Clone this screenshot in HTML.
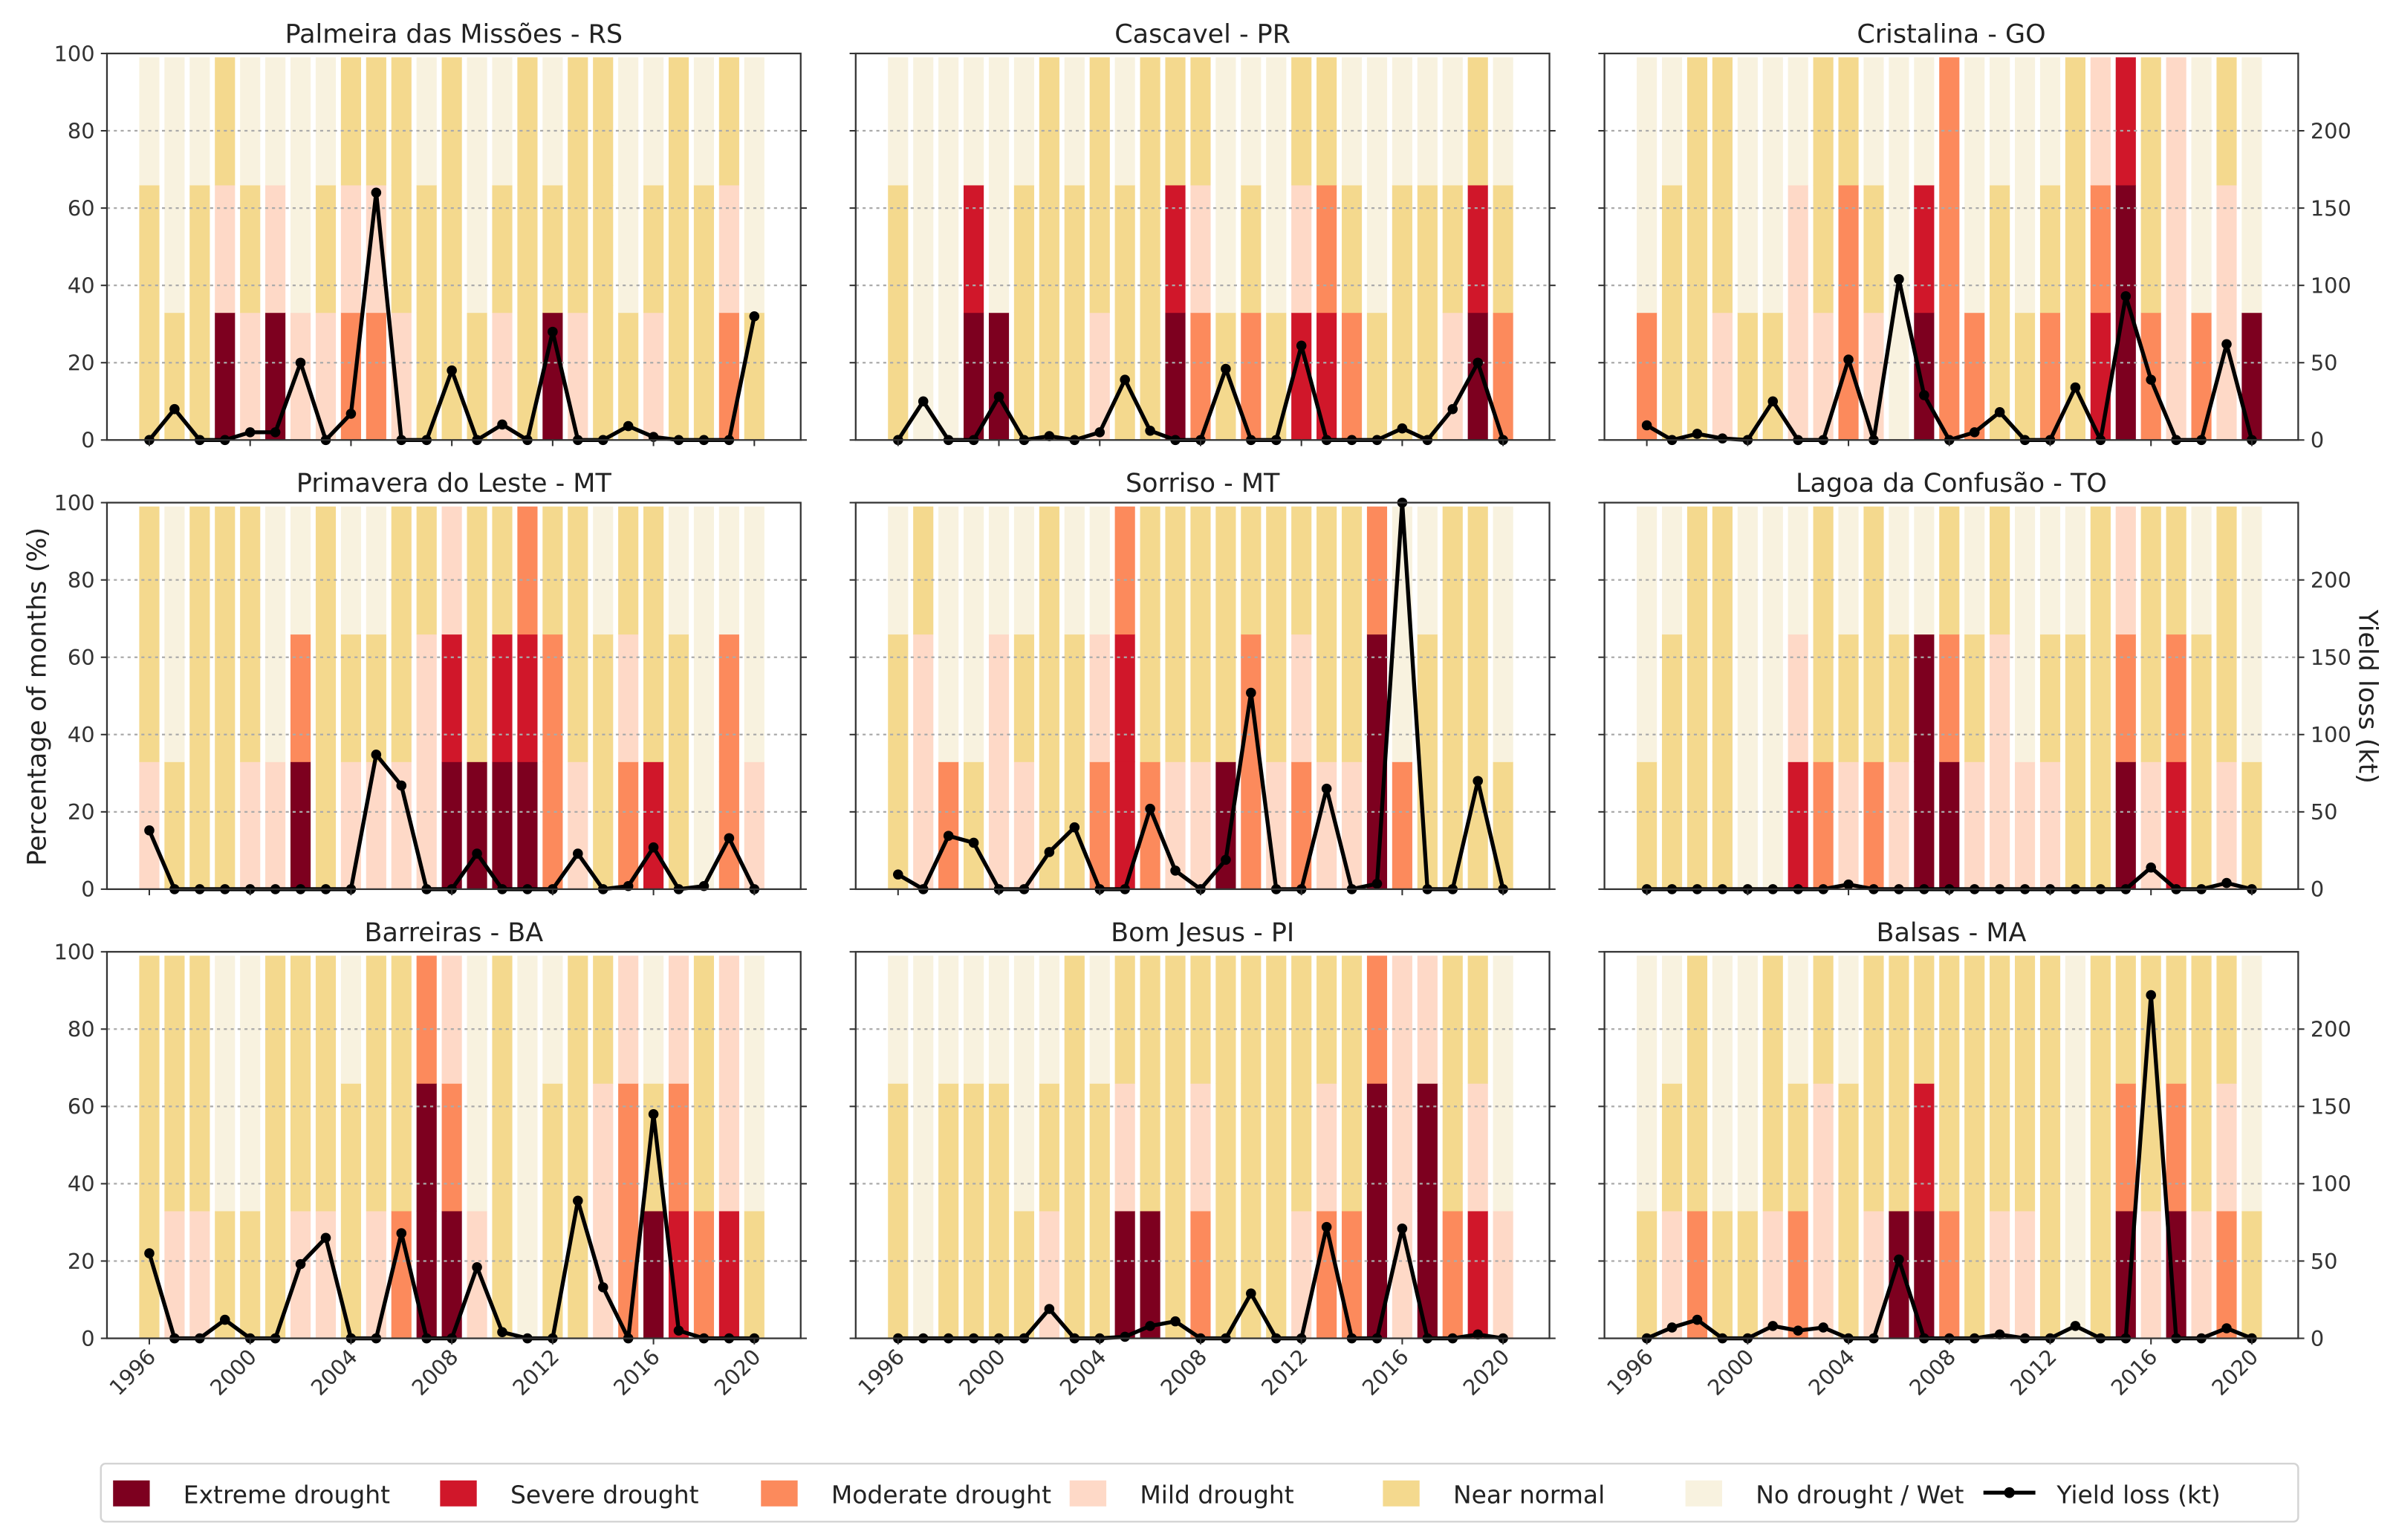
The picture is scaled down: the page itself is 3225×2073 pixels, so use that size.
<!DOCTYPE html>
<html><head><meta charset="utf-8"><title>Drought and yield loss</title>
<style>
html,body{margin:0;padding:0;background:#fff;}
svg{display:block;font-family:"DejaVu Sans","Liberation Sans",sans-serif;}
</style></head>
<body>
<svg id="fig" width="3225" height="2073" viewBox="0 0 1568 1008" preserveAspectRatio="none" xmlns="http://www.w3.org/2000/svg">
<rect x="0" y="0" width="1568" height="1008" fill="#fff"/>
<g id="panels"></g>
<text x="0" y="0" transform="translate(30,456) rotate(-90)" text-anchor="middle" font-size="17" fill="#222">Percentage of months (%)</text>
<text x="0" y="0" transform="translate(1544,456) rotate(90)" text-anchor="middle" font-size="17" fill="#222">Yield loss (kt)</text>
<g id="legend"></g>
</svg>
<script>
const years = [1996,1997,1998,1999,2000,2001,2002,2003,2004,2005,2006,2007,2008,2009,2010,2011,2012,2013,2014,2015,2016,2017,2018,2019,2020];
const xTickLabels = [1996,2000,2004,2008,2012,2016,2020];
const leftTicks = [0,20,40,60,80,100];
const rightTicks = [0,50,100,150,200];
const titles = ["Palmeira das Missões - RS","Cascavel - PR","Cristalina - GO","Primavera do Leste - MT","Sorriso - MT","Lagoa da Confusão - TO","Barreiras - BA","Bom Jesus - PI","Balsas - MA"];
const categoryNames = ["Extreme drought","Severe drought","Moderate drought","Mild drought","Near normal","No drought / Wet"];
const categoryCodes = ["X","S","M","L","N","W"];
const categoryColors = ["#7d001f","#d0172a","#fc8a5c","#fed9c7","#f4d98e","#f8f2df"];
// monthly drought class per year (3 months, bottom to top)
const months0 = ["NNW","NWW","NNW","XLN","LNW","XLW","LWW","LNW","MLN","MLN","LNN","NNW","NNN","NWW","LNW","NNN","XNW","LNN","NNN","NWW","LNW","NNN","NNW","MLN","NWW"];
const months1 = ["NNW","WWW","WWW","XSW","XWW","NNW","NNN","NNW","LNN","NNW","NNN","XSN","MLN","NWW","MNW","NWW","SLN","SMN","MNW","NWW","NNW","NNW","LNW","XSN","MNW"];
const months2 = ["MWW","NNW","NNN","LNN","NWW","NWW","LLW","LNN","MMN","LNW","WWW","XSW","MMM","MWW","NNW","NWW","MNW","NNN","SML","XXS","MNN","LLL","MWW","LLN","XWW"];
const months3 = ["LNN","NWW","NNN","NNN","LNN","LWW","XMW","NNN","LNW","LNW","LNN","LLN","XSL","XNN","XSN","XSM","MMN","LNN","NNW","MLN","SNN","NNW","WWW","MMW","LWW"];
const months4 = ["NNW","LLN","MWW","NWW","LLW","LNW","NNN","NNW","MLW","SSM","MNN","LNN","LNN","XNN","MMN","LNN","MLN","LNN","LNN","XXM","MWW","NNW","NNN","NNN","NWW"];
const months5 = ["NWW","NNW","NNN","NNN","WWW","WWW","SLW","MNN","LNW","MNN","LNW","XXW","XMN","LNW","LLN","LWW","LNW","NNW","NNN","XML","LNN","SMN","NNW","LNN","NWW"];
const months6 = ["NNN","LNN","LNN","NWW","NWW","NNN","LNN","LNN","NNW","LNN","MNN","XXM","XML","LWW","NNN","WWW","NNW","NNN","LLN","MML","XNW","SML","MNN","SLL","NWW"];
const months7 = ["NNW","WWW","NNW","NNW","NNW","NWW","LNW","NNN","NNW","XLN","XNN","NNN","MLN","NNN","NNN","NNN","LNN","MLN","MNN","XXM","LLL","XXL","MNN","SLN","LWW"];
const months8 = ["NWW","LNW","MNN","NWW","NWW","LNN","MNW","LLN","NNW","LNN","XNN","XSN","MNN","NNN","LNN","LNN","NNN","WWW","NNN","XMN","LNN","XMN","LNN","MLN","NWW"];
// yield loss (kt)
const loss0 = [0,20,0,0,5,5,50,0,17,160,0,0,45,0,10,0,70,0,0,9,2,0,0,0,80];
const loss1 = [0,25,0,0,28,0,2.5,0,5,39,6,0,0,46,0,0,61,0,0,0,7.5,0,20,50,0];
const loss2 = [9.5,0,4,1,0,25,0,0,52,0,104,29,0,5,18,0,0,34,0,93,39,0,0,62,0];
const loss3 = [38,0,0,0,0,0,0,0,0,87,67,0,0,23,0,0,0,23,0,2,27,0,2,33,0];
const loss4 = [9.5,0,34.5,30,0,0,24,40,0,0,52,12,0,19,127,0,0,65,0,3.5,250,0,0,70,0];
const loss5 = [0,0,0,0,0,0,0,0,3,0,0,0,0,0,0,0,0,0,0,0,14,0,0,4,0];
const loss6 = [55,0,0,12,0,0,48,65,0,0,68,0,0,46,4,0,0,89,33,0,145,5,0,0,0];
const loss7 = [0,0,0,0,0,0,19,0,0,1,8,11,0,0,29,0,0,72,0,0,71,0,0,2.5,0];
const loss8 = [0,7,12,0,0,8,5,7,0,0,51,0,0,0,2.5,0,0,8,0,0,222,0,0,6.5,0];

const monthsAll = [months0,months1,months2,months3,months4,months5,months6,months7,months8];
const lossAll = [loss0,loss1,loss2,loss3,loss4,loss5,loss6,loss7,loss8];

const NS = "http://www.w3.org/2000/svg";
function mk(tag, attrs, parent){
  const e = document.createElementNS(NS, tag);
  for (const k in attrs) e.setAttribute(k, attrs[k]);
  if (parent) parent.appendChild(e);
  return e;
}
const lefts = [70, 560, 1050], tops = [35, 329, 623];
const PW = 454, PH = 253;
const XMIN = 1994.32, XMAX = 2021.84;
const panelsG = document.getElementById('panels');

for (let p = 0; p < 9; p++) {
  const col = p % 3, row = Math.floor(p / 3);
  const L = lefts[col], T = tops[row], B = T + PH;
  const xs = v => L + (v - XMIN) / (XMAX - XMIN) * PW;
  const yl = v => B - v / 100 * PH;
  const yr = v => B - Math.min(v, 250) / 250 * PH;
  const g = mk('g', {}, panelsG);
  
  

  const title = mk('text', {x: L + PW / 2, y: T - 7, 'text-anchor': 'middle', 'font-size': 17, fill: '#222'}, g);
  title.textContent = titles[p];
  
  

  const bw = 0.8;
  const months = monthsAll[p];
  years.forEach((yrv, i) => {
    const code = months[i];
    for (let m = 0; m < 3; m++) {
      const ci = categoryCodes.indexOf(code[m]);
      const y0 = yl(33 * m), y1 = yl(33 * (m + 1));
      const r = mk('rect', {x: xs(yrv - bw / 2), y: y1, width: xs(yrv + bw / 2) - xs(yrv - bw / 2), height: y0 - y1 + 0.3, fill: categoryColors[ci]}, g);
      
      
    }
  });

  [20, 40, 60, 80].forEach(v => {
    const gl = mk('line', {x1: L, x2: L + PW, y1: yl(v), y2: yl(v), stroke: '#aaa', 'stroke-width': 1.1, 'stroke-dasharray': '2,2.5'}, g);
    
    
  });

  const loss = lossAll[p];
  const pts = years.map((yrv, i) => xs(yrv).toFixed(2) + ',' + yr(loss[i]).toFixed(2));
  const pl = mk('polyline', {points: pts.join(' '), fill: 'none', stroke: '#000', 'stroke-width': 2.6, 'stroke-linejoin': 'round'}, g);
  
  
  years.forEach((yrv, i) => {
    const c = mk('circle', {cx: xs(yrv), cy: yr(loss[i]), r: 3.3, fill: '#000'}, g);
    
    
  });

  const fr = mk('rect', {x: L, y: T, width: PW, height: PH, fill: 'none', stroke: '#333', 'stroke-width': 1.1}, g);
  
  

  leftTicks.forEach(v => {
    mk('line', {x1: L - 4, x2: L, y1: yl(v), y2: yl(v), stroke: '#333', 'stroke-width': 1}, g);
    if (col === 0) {
      const t = mk('text', {x: L - 8, y: yl(v) + 5, 'text-anchor': 'end', 'font-size': 14, fill: '#333'}, g);
      t.textContent = v;
      
      
    }
  });
  rightTicks.forEach(v => {
    mk('line', {x1: L + PW, x2: L + PW + 4, y1: yr(v), y2: yr(v), stroke: '#333', 'stroke-width': 1}, g);
    if (col === 2) {
      const t = mk('text', {x: L + PW + 8, y: yr(v) + 5, 'text-anchor': 'start', 'font-size': 14, fill: '#333'}, g);
      t.textContent = v;
      
      
    }
  });
  xTickLabels.forEach(v => {
    mk('line', {x1: xs(v), x2: xs(v), y1: B, y2: B + 4, stroke: '#333', 'stroke-width': 1}, g);
    if (row === 2) {
      const t = mk('text', {x: 0, y: 0, 'text-anchor': 'end', 'font-size': 14, fill: '#333', transform: 'translate(' + (xs(v) + 5) + ',' + (B + 13) + ') rotate(-45)'}, g);
      t.textContent = v;
      
      
    }
  });
}

const lg = document.getElementById('legend');
const box = mk('rect', {x: 66, y: 958, width: 1438, height: 38, rx: 3, fill: '#fff', stroke: '#d4d4d4', 'stroke-width': 1.2}, lg);


const swatchX = [74, 288, 498, 700, 905, 1103];
categoryNames.forEach((n, i) => {
  const e = mk('g', {}, lg);
  
  
  mk('rect', {x: swatchX[i], y: 969, width: 24, height: 17, fill: categoryColors[i]}, e);
  const t = mk('text', {x: swatchX[i] + 46, y: 984, 'font-size': 16, fill: '#222'}, e);
  t.textContent = n;
});
const le = mk('g', {}, lg);


mk('line', {x1: 1298, x2: 1332, y1: 977, y2: 977, stroke: '#000', 'stroke-width': 2.6}, le);
mk('circle', {cx: 1315, cy: 977, r: 3.5, fill: '#000'}, le);
const lt = mk('text', {x: 1346, y: 984, 'font-size': 16, fill: '#222'}, le);
lt.textContent = 'Yield loss (kt)';
</script>
</body></html>
